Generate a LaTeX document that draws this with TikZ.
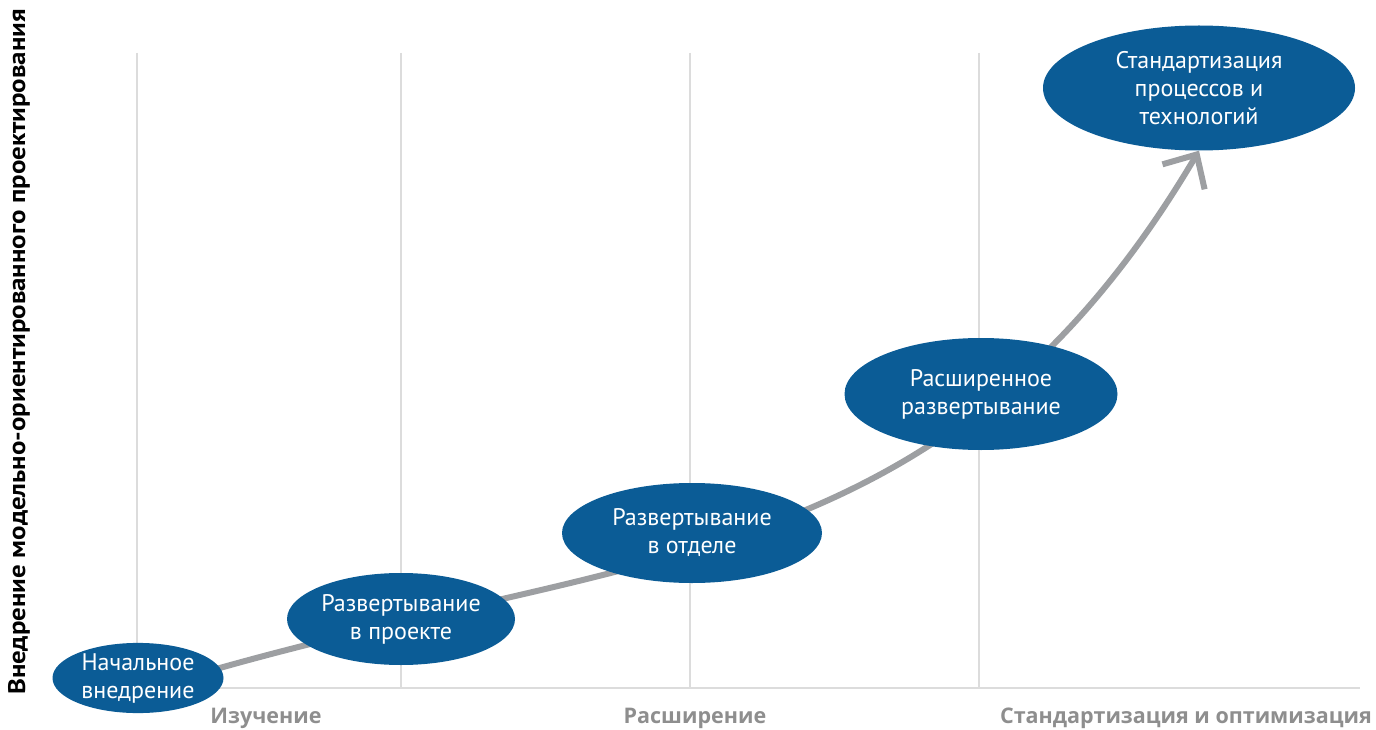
\documentclass[tikz,border=0pt]{standalone}
\usepackage{fontspec}
\setmainfont{PT Sans}
\newfontfamily\axisfont[FakeStretch=1.12]{PT Sans}
\newfontfamily\phasefont{Open Sans}
\usetikzlibrary{shapes.geometric,arrows.meta,backgrounds}

\definecolor{stageblue}{HTML}{0B5C96}
\definecolor{trendgray}{HTML}{9D9FA2}
\definecolor{gridgray}{HTML}{DCDCDC}
\definecolor{phasegray}{HTML}{8E8E8E}

\begin{document}
\begin{tikzpicture}[
    x=1pt, y=-1pt,
    stage/.style={ellipse, fill=stageblue, text=white, align=center, inner sep=0pt, font=\fontsize{24}{28}\selectfont},
    gridline/.style={gridgray, line width=2pt},
    phase/.style={text=phasegray, font=\phasefont\fontsize{21.5}{22}\selectfont\bfseries},
    trend/.style={trendgray, line width=6pt, -{Straight Barb[length=26pt,width=49pt]}}
]
\useasboundingbox (0,0) rectangle (1376,730);

% Stages
\node[stage, minimum width=171pt, minimum height=67pt] (initial) at (138,678) {Начальное\\внедрение};
\node[stage, minimum width=228pt, minimum height=92pt] (project) at (401,619) {Развертывание\\в проекте};
\node[stage, minimum width=260pt, minimum height=100pt] (dept) at (692,533) {Развертывание\\в отделе};
\node[stage, minimum width=273pt, minimum height=112pt] (extended) at (981,394) {Расширенное\\развертывание};
\node[stage, minimum width=312pt, minimum height=125pt] (standard) at (1199,88) {Стандартизация\\процессов и\\технологий};

% Grid and trend behind the stages
\begin{scope}[on background layer]
\foreach \gx in {137,401,690,979}
    \draw[gridline] (\gx,53) -- (\gx,688);
\draw[gridline] (137,688) -- (1360,688);
\coordinate (trendstart) at (175,681);
\draw[trend] (trendstart) .. controls (625,546) and (943,583) .. (standard.south);
\end{scope}

% Axis and phase labels
\node[rotate=90, font=\axisfont\fontsize{24}{24}\selectfont\bfseries] (axis) at (19,352) {Внедрение модельно-ориентированного проектирования};
\node[phase] (explore) at (266,718) {Изучение};
\node[phase] (expand) at (695,718) {Расширение};
\node[phase] (optimize) at (1186,718) {Стандартизация и оптимизация};

\end{tikzpicture}
\end{document}
